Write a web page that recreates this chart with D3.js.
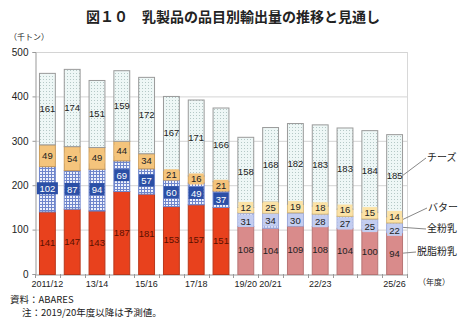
<!DOCTYPE html>
<html>
<head>
<meta charset="utf-8">
<script src="https://cdn.jsdelivr.net/npm/d3@7"></script>
<style>
  html, body { margin: 0; padding: 0; background: #fff; }
  svg { display: block; font-family: "Noto Sans CJK JP", "Noto Sans", sans-serif; }
</style>
</head>
<body>
<svg id="chart" width="467" height="321"></svg>
<script>
// Fiscal years (2019/20 onward are forecasts)
const years = ["2011/12","12/13","13/14","14/15","15/16","16/17","17/18","18/19","19/20","20/21","21/22","22/23","23/24","24/25","25/26"];
const shownYearLabels = ["2011/12","13/14","15/16","17/18","19/20","20/21","22/23","25/26"];
const forecastFrom = 8; // index of 19/20

// Export volumes, thousand tonnes
const skimMilk   = [141,147,143,187,181,153,157,151,108,104,109,108,104,100,94];
const wholeMilk  = [102, 87, 94, 69, 57, 60, 49, 37, 31, 34, 30, 28, 27, 25, 22];
const butter     = [ 49, 54, 49, 44, 34, 21, 16, 21, 12, 25, 19, 18, 16, 15, 14];
const cheese     = [161,174,151,159,172,167,171,166,158,168,182,183,183,184,185];

const seriesNames = ["脱脂粉乳","全粉乳","バター","チーズ"];
const yTicks = [0,100,200,300,400,500];

const svg = d3.select("#chart");
const margin = {left: 35, right: 60, top: 52, bottom: 47};
const W = 467, H = 321;
const x = d3.scaleBand().domain(years).range([margin.left, W - margin.right]).paddingInner(0.32).paddingOuter(0.16);
const y = d3.scaleLinear().domain([0, 500]).range([H - margin.bottom, margin.top]);

// Patterns
const defs = svg.append("defs");
function grid(id, bg, line) {
  const p = defs.append("pattern").attr("id", id).attr("patternUnits", "userSpaceOnUse").attr("width", 3).attr("height", 3);
  p.append("rect").attr("width", 3).attr("height", 3).attr("fill", bg);
  p.append("rect").attr("width", 3).attr("height", 1).attr("fill", line);
  p.append("rect").attr("width", 1).attr("height", 3).attr("fill", line);
}
grid("wmA", "#eef1fb", "#6f86cc");
grid("wmF", "#d8def5", "#a3b2e2");
const dots = defs.append("pattern").attr("id", "chz").attr("patternUnits", "userSpaceOnUse").attr("width", 3).attr("height", 3);
dots.append("rect").attr("width", 3).attr("height", 3).attr("fill", "#eef7f6");
dots.append("rect").attr("x", 1).attr("y", 1).attr("width", 1).attr("height", 1).attr("fill", "#b4c8c6");

// Gridlines
svg.append("g").selectAll("line").data(yTicks.slice(1)).join("line")
  .attr("x1", margin.left).attr("x2", W - margin.right)
  .attr("y1", d => y(d) + 0.5).attr("y2", d => y(d) + 0.5)
  .attr("stroke", "#d4d4d4").attr("stroke-width", 1);
svg.append("line").attr("x1", W - margin.right + 0.5).attr("x2", W - margin.right + 0.5)
  .attr("y1", y(500)).attr("y2", y(0)).attr("stroke", "#d8d8d8");

// Y axis
const yAxis = svg.append("g").attr("transform", `translate(${margin.left + 0.5},0)`)
  .call(d3.axisLeft(y).tickValues(yTicks).tickSize(3).tickPadding(4));
yAxis.select(".domain").attr("stroke", "#999");
yAxis.selectAll(".tick line").attr("stroke", "#999");
yAxis.selectAll("text").attr("font-size", 10).attr("fill", "#222").attr("font-family", "Liberation Sans, Arial, sans-serif");

// X axis
const xAxis = svg.append("g").attr("transform", `translate(0,${y(0) + 0.5})`)
  .call(d3.axisBottom(x).tickSize(0).tickPadding(6).tickFormat(d => shownYearLabels.includes(d) ? d : ""));
xAxis.select(".domain").attr("stroke", "#999");
xAxis.selectAll("text").attr("font-size", 9).attr("fill", "#222");
// Band-boundary tick marks
const step = x.step();
svg.append("g").selectAll("line").data(d3.range(years.length + 1)).join("line")
  .attr("x1", i => Math.round(margin.left + i * step) + 0.5)
  .attr("x2", i => Math.round(margin.left + i * step) + 0.5)
  .attr("y1", y(0)).attr("y2", y(0) + 4).attr("stroke", "#999");

// Stack
const rows = years.map((yr, i) => ({year: yr, i, skim: skimMilk[i], whole: wholeMilk[i], butter: butter[i], cheese: cheese[i]}));
const keys = ["skim","whole","butter","cheese"];
const stacked = d3.stack().keys(keys)(rows);

const style = {
  skim:   {a: {fill: "#e8411d", stroke: "#b8381c"}, f: {fill: "#d98b8b", stroke: "#b77474"}},
  whole:  {a: {fill: "url(#wmA)", stroke: "#6f86cc"}, f: {fill: "url(#wmF)", stroke: "#98a6d8"}},
  butter: {a: {fill: "#f4c47c", stroke: "#c99a58"}, f: {fill: "#fbe2a6", stroke: "#d6b878"}},
  cheese: {a: {fill: "url(#chz)", stroke: "#9a9a9a"}, f: {fill: "url(#chz)", stroke: "#9a9a9a"}}
};

const bw = x.bandwidth();
stacked.forEach(layer => {
  const g = svg.append("g");
  g.selectAll("rect").data(layer).join("rect")
    .attr("x", d => x(d.data.year) + 0.5)
    .attr("y", d => y(d[1]) + 0.5)
    .attr("width", bw - 1)
    .attr("height", d => y(d[0]) - y(d[1]))
    .attr("fill", d => style[layer.key][d.data.i >= forecastFrom ? "f" : "a"].fill)
    .attr("stroke", d => style[layer.key][d.data.i >= forecastFrom ? "f" : "a"].stroke)
    .attr("stroke-width", 1);
});

// Label centres, with thin butter / whole-milk segments nudged apart
const mid = s => (y(s[0]) + y(s[1])) / 2;
const labelY = keys.map(() => []);
rows.forEach((r, i) => {
  const m = stacked.map(layer => mid(layer[i]));
  const gap = 13;
  if (m[1] - m[2] < gap) {
    const c = (m[1] + m[2]) / 2;
    m[2] = c - gap / 2 - 0.5;
    m[1] = c + gap / 2 + 0.5;
  }
  m.forEach((v, k) => labelY[k][i] = v);
});

// Value labels
stacked.forEach((layer, k) => {
  const g = svg.append("g");
  layer.forEach((d, i) => {
    const v = d[1] - d[0];
    const cx = x(d.data.year) + bw / 2;
    const cy = labelY[k][i];
    const fc = d.data.i >= forecastFrom;
    if (layer.key === "whole") {
      const tw = String(v).length * 6 + 3;
      g.append("rect").attr("x", cx - tw / 2).attr("y", cy - 6.5).attr("width", tw).attr("height", 12)
        .attr("fill", fc ? "#c3cdf0" : "#2b4fa6");
    }
    if (layer.key === "butter") {
      const tw = String(v).length * 6 + 3;
      g.append("rect").attr("x", cx - tw / 2).attr("y", cy - 5.5).attr("width", tw).attr("height", 11)
        .attr("fill", fc ? "#fbe2a6" : "#f4c47c");
    }
    g.append("text").attr("x", cx).attr("y", cy).attr("dy", "0.36em")
      .attr("text-anchor", "middle").attr("font-size", 9.5)
      .attr("font-family", "Liberation Sans Narrow, Liberation Sans, Arial, sans-serif")
      .attr("fill", layer.key === "whole" && !fc ? "#fff" : (layer.key === "skim" && !fc ? "#5a1000" : "#222"))
      .text(v);
  });
});

// Series labels with leader lines (attached to last bar)
const last = rows.length - 1;
const lx = x(years[last]) + bw;
const mids = stacked.map(layer => mid(layer[last]));
const legend = [
  {name: seriesNames[3], y0: mids[3], tx: 427, ty: 157},
  {name: seriesNames[2], y0: mids[2], tx: 428, ty: 207},
  {name: seriesNames[1], y0: mids[1], tx: 427, ty: 228},
  {name: seriesNames[0], y0: mids[0], tx: 417, ty: 251}
];
const lg = svg.append("g");
legend.forEach(l => {
  lg.append("line").attr("x1", lx).attr("y1", l.y0).attr("x2", l.tx - 1).attr("y2", l.ty + 1)
    .attr("stroke", "#888").attr("stroke-width", 1);
  lg.append("text").attr("x", l.tx).attr("y", l.ty).attr("dy", "0.36em")
    .attr("font-size", 10).attr("fill", "#222").text(l.name);
});

// Titles and notes
svg.append("text").attr("x", 233).attr("y", 17).attr("dy", "0.36em").attr("text-anchor", "middle")
  .attr("font-size", 14).attr("font-weight", "bold").attr("fill", "#222")
  .text("図１０　乳製品の品目別輸出量の推移と見通し");
svg.append("text").attr("x", 9).attr("y", 37).attr("dy", "0.36em").attr("font-size", 8).attr("fill", "#222").text("（千トン）");
svg.append("text").attr("x", 418).attr("y", 282).attr("dy", "0.36em").attr("font-size", 8).attr("fill", "#222").text("（年度）");
svg.append("text").attr("x", 10).attr("y", 300).attr("dy", "0.36em").attr("font-size", 9.5).attr("fill", "#222").text("資料：ABARES");
svg.append("text").attr("x", 22).attr("y", 313).attr("dy", "0.36em").attr("font-size", 9.5).attr("fill", "#222").text("注：2019/20年度以降は予測値。");
</script>
</body>
</html>
